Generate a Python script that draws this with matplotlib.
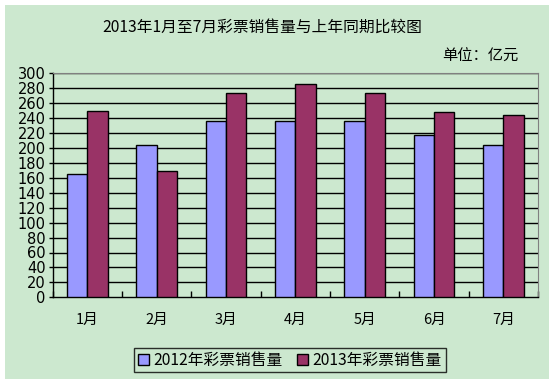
import matplotlib
matplotlib.use("Agg")
import matplotlib.pyplot as plt
import numpy as np
from matplotlib.patches import Rectangle

plt.rcParams['font.family'] = ['Noto Sans CJK SC', 'DejaVu Sans']

categories = ['1月', '2月', '3月', '4月', '5月', '6月', '7月']
sales_2012 = [165, 204, 236, 236, 236, 217, 204]
sales_2013 = [249, 169, 274, 286, 274, 248, 244]
series_names = ['2012年彩票销售量', '2013年彩票销售量']
yticks = list(range(0, 301, 20))

bg = '#CCE8CF'
W, H = 554, 384
fig = plt.figure(figsize=(5.54, 3.84), dpi=100, facecolor='white')
fig.patches.append(Rectangle((5/W, 1-379/H), 544/W, 374/H, transform=fig.transFigure,
                             facecolor=bg, edgecolor='none', zorder=-10))
ax = fig.add_axes([52.7/W, 1-297.3/H, (538-52.7)/W, 224/H])
ax.set_zorder(5)
ax.set_facecolor(bg)

x = np.arange(len(categories))
w = 0.295
ax.bar(x - w/2, sales_2012, w, color='#9999FF', edgecolor='black', linewidth=1, label=series_names[0], zorder=3)
ax.bar(x + w/2, sales_2013, w, color='#993366', edgecolor='black', linewidth=1, label=series_names[1], zorder=3)

ax.set_ylim(0, 300)
ax.set_xlim(-0.5, len(categories) - 0.5)
ax.set_yticks(yticks)
ax.set_yticklabels([str(v) for v in yticks], fontsize=10.5, family=['DejaVu Sans'])
for v in yticks[1:]:
    ax.axhline(v, color='black', linewidth=1, zorder=1)
ax.set_xticks(x)
ax.set_xticklabels(categories, fontsize=10.5)
ax.set_xticks(np.arange(-0.5, len(categories)), minor=True)
ax.tick_params(axis='x', which='major', length=0, pad=11)
ax.tick_params(axis='x', which='minor', direction='in', length=4, width=1)
ax.tick_params(axis='y', length=3, width=1, pad=2)
for s in ['left', 'bottom']:
    ax.spines[s].set_color('black')
    ax.spines[s].set_linewidth(1)
ax.spines['top'].set_color('#808080')
ax.spines['right'].set_color('#808080')

fig.text(262/W, 1-27/H, '2013年1月至7月彩票销售量与上年同期比较图', ha='center', va='center', fontsize=11.3, zorder=6)
fig.text(480/W, 1-56/H, '单位：亿元', ha='center', va='center', fontsize=11, zorder=6)

leg = fig.legend(loc='center', bbox_to_anchor=(290/W, 1-360/H), ncol=2, frameon=True,
                 fontsize=11.3, handlelength=0.7, handleheight=0.7, handletextpad=0.3,
                 columnspacing=0.9, borderpad=0.25, fancybox=False)
leg.set_zorder(6)
leg.get_frame().set_edgecolor('black')
leg.get_frame().set_facecolor(bg)
leg.get_frame().set_linewidth(1)

fig.savefig('out.png', dpi=100, facecolor='white')
